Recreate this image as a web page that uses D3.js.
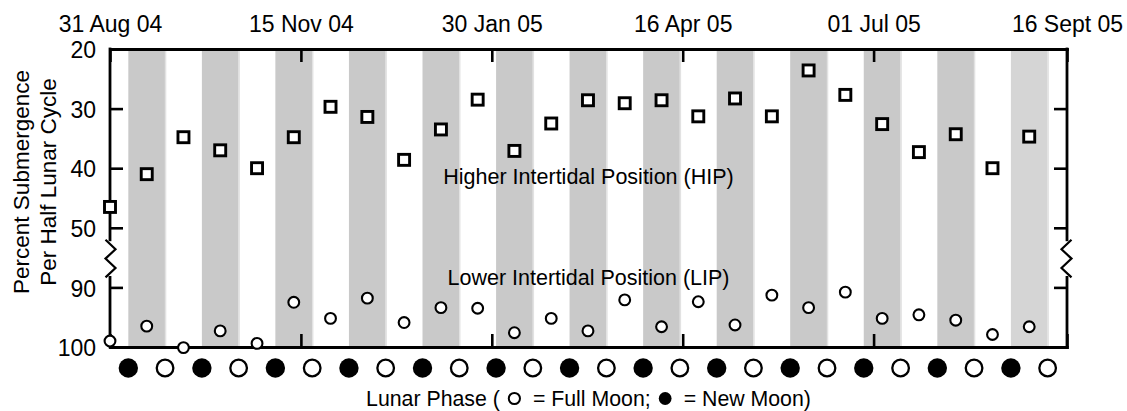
<!DOCTYPE html>
<html>
<head>
<meta charset="utf-8">
<script src="https://cdn.jsdelivr.net/npm/d3@7"></script>
<style>
  body { margin: 0; background: #fff; }
  text { font-family: "Liberation Sans", Arial, Helvetica, sans-serif; fill: #000; }
</style>
</head>
<body>
<svg id="chart" width="1127" height="411"></svg>
<script>
// moon phases (N = new moon, F = full moon), UTC
const phaseDates = [
  "2004-09-07 07", "2004-09-21 22", "2004-10-06 14", "2004-10-21 05", "2004-11-04 20",
  "2004-11-19 12", "2004-12-04 03", "2004-12-18 18", "2005-01-02 10", "2005-01-17 01",
  "2005-01-31 17", "2005-02-15 08", "2005-03-01 23", "2005-03-16 15", "2005-03-31 06",
  "2005-04-14 21", "2005-04-29 13", "2005-05-14 04", "2005-05-28 19", "2005-06-12 11",
  "2005-06-27 02", "2005-07-11 18", "2005-07-26 09", "2005-08-10 00", "2005-08-24 16",
  "2005-09-08 07"
];
const phaseTypes = ["N","F","N","F","N","F","N","F","N","F","N","F","N",
                    "F","N","F","N","F","N","F","N","F","N","F","N","F"];

// one sample per half lunar cycle
const sampleDates = [
  "2004-08-31 00", "2004-09-14 15", "2004-09-29 06", "2004-10-13 21", "2004-10-28 13",
  "2004-11-12 04", "2004-11-26 19", "2004-12-11 11", "2004-12-26 02", "2005-01-09 18",
  "2005-01-24 09", "2005-02-08 00", "2005-02-22 16", "2005-03-09 07", "2005-03-23 22",
  "2005-04-07 14", "2005-04-22 05", "2005-05-06 20", "2005-05-21 12", "2005-06-05 03",
  "2005-06-19 18", "2005-07-04 10", "2005-07-19 01", "2005-08-02 17", "2005-08-17 08",
  "2005-08-31 23"
];
const hipValues = [46.5, 41.0, 34.8, 37.0, 40.0, 34.8, 29.7, 31.4, 38.6, 33.5, 28.5, 37.1, 32.5,
                   28.6, 29.1, 28.6, 31.3, 28.3, 31.3, 23.6, 27.7, 32.6, 37.3, 34.3, 40.0, 34.7];
const lipValues = [99.0, 96.5, 100.1, 97.3, 99.4, 92.5, 95.2, 91.8, 95.9, 93.4, 93.5, 97.6, 95.2,
                   97.3, 92.1, 96.6, 92.4, 96.3, 91.3, 93.4, 90.8, 95.2, 94.6, 95.5, 97.9, 96.6];

const dateTicks = ["2004-08-31 00", "2004-11-15 00", "2005-01-30 00", "2005-04-16 00", "2005-07-01 00", "2005-09-16 00"];
const dateTickLabels = ["31 Aug 04", "15 Nov 04", "30 Jan 05", "16 Apr 05", "01 Jul 05", "16 Sept 05"];
const yTicks = [20, 30, 40, 50, 90, 100];

const parse = d3.utcParse("%Y-%m-%d %H");
const W = 1127, H = 411;
const margin = { top: 49, right: 60, bottom: 64, left: 110 };
const plotH = H - margin.top - margin.bottom;
const unit = plotH / 50; // 20-50, a gap worth 10, then 90-100

const svg = d3.select("#chart");

const x = d3.scaleUtc()
    .domain([parse(dateTicks[0]), parse(dateTicks[dateTicks.length - 1])])
    .range([margin.left, W - margin.right]);
const y = d3.scaleLinear()
    .domain([20, 50, 90, 100])
    .range([margin.top, margin.top + 30 * unit, margin.top + 40 * unit, H - margin.bottom]);

// shaded half cycles: new moon -> full moon
const phases = phaseDates.map((d, i) => ({ date: parse(d), type: phaseTypes[i] }));
const bands = [];
for (let i = 0; i < phases.length - 1; i++) {
    if (phases[i].type === "N") bands.push([phases[i].date, phases[i + 1].date]);
}
svg.append("g").selectAll("rect").data(bands).join("rect")
    .attr("x", d => x(d[0]))
    .attr("width", d => x(d[1]) - x(d[0]))
    .attr("y", margin.top)
    .attr("height", plotH)
    .attr("fill", (d, i) => i === bands.length - 1 ? "#d5d5d5" : "#c9c9c9");
svg.append("g").selectAll("line").data(bands).join("line")
    .attr("x1", d => x(d[1]) + 0.5).attr("x2", d => x(d[1]) + 0.5)
    .attr("y1", margin.top).attr("y2", H - margin.bottom)
    .attr("stroke", "#e2e2e2").attr("stroke-width", 1.5);

// axes
const fontSize = 23;
const topAxis = svg.append("g")
    .attr("transform", `translate(0,${margin.top})`)
    .call(d3.axisTop(x)
        .tickValues(dateTicks.map(parse))
        .tickFormat((d, i) => dateTickLabels[i])
        .tickSizeInner(-13).tickSizeOuter(0).tickPadding(17));
const bottomAxis = svg.append("g")
    .attr("transform", `translate(0,${H - margin.bottom})`)
    .call(d3.axisBottom(x)
        .tickValues(dateTicks.map(parse))
        .tickFormat("")
        .tickSizeInner(-13).tickSizeOuter(0));
const leftAxis = svg.append("g")
    .attr("transform", `translate(${margin.left},0)`)
    .call(d3.axisLeft(y).tickValues(yTicks).tickSizeInner(-13).tickSizeOuter(0).tickPadding(14));
const rightAxis = svg.append("g")
    .attr("transform", `translate(${W - margin.right},0)`)
    .call(d3.axisRight(y).tickValues(yTicks).tickFormat("").tickSizeInner(-13).tickSizeOuter(0));

[topAxis, bottomAxis, leftAxis, rightAxis].forEach(g => {
    g.attr("font-size", fontSize).attr("font-family", null);
    g.selectAll("line").attr("stroke", "#000").attr("stroke-width", 2.6);
    g.selectAll(".domain").attr("stroke", "#000").attr("stroke-width", 2.8).attr("stroke-linecap", "square");
    g.selectAll("text").attr("fill", "#000");
});
leftAxis.selectAll("text").attr("dy", "0.38em");
leftAxis.select(".domain").remove();
rightAxis.select(".domain").remove();

// broken vertical axes
const breakTop = y(50) + 12, breakBot = y(90) - 10;
const breakStep = (breakBot - breakTop) / 4;
[[margin.left, -1], [W - margin.right, 1]].forEach(([ax, s]) => {
    const g = svg.append("g").attr("stroke", "#000").attr("fill", "none").attr("stroke-width", 2.8);
    g.append("line").attr("x1", ax).attr("x2", ax).attr("y1", margin.top).attr("y2", breakTop)
        .attr("stroke-linecap", "square");
    g.append("line").attr("x1", ax).attr("x2", ax).attr("y1", breakBot).attr("y2", H - margin.bottom)
        .attr("stroke-linecap", "square");
    const pts = d3.range(5).map(k => [ax + s * (k % 2 === 0 ? 4.5 : -5.5), breakTop + k * breakStep]);
    g.append("path").attr("d", d3.line()(pts)).attr("stroke-width", 2.2).attr("stroke-linejoin", "miter");
});

// data
const samples = sampleDates.map((d, i) => ({ date: parse(d), hip: hipValues[i], lip: lipValues[i] }));
const sq = 11;
svg.append("g").selectAll("rect").data(samples).join("rect")
    .attr("x", d => x(d.date) - sq / 2)
    .attr("y", d => y(d.hip) - sq / 2)
    .attr("width", sq).attr("height", sq)
    .attr("fill", "#fff").attr("stroke", "#000").attr("stroke-width", 2.9);
svg.append("g").selectAll("circle").data(samples).join("circle")
    .attr("cx", d => x(d.date))
    .attr("cy", d => y(d.lip))
    .attr("r", 5.4)
    .attr("fill", "#fff").attr("stroke", "#000").attr("stroke-width", 2.1);

// lunar phase row
const moonY = H - margin.bottom + 21;
svg.append("g").selectAll("circle").data(phases).join("circle")
    .attr("cx", d => x(d.date))
    .attr("cy", moonY)
    .attr("r", d => d.type === "N" ? 9.7 : 8.3)
    .attr("fill", d => d.type === "N" ? "#000" : "#fff")
    .attr("stroke", "#000")
    .attr("stroke-width", d => d.type === "N" ? 0 : 2.3);

// labels inside plot
const midX = (margin.left + W - margin.right) / 2;
svg.append("text").attr("x", midX).attr("y", 184).attr("text-anchor", "middle")
    .attr("font-size", 21.5).text("Higher Intertidal Position (HIP)");
svg.append("text").attr("x", midX).attr("y", 285).attr("text-anchor", "middle")
    .attr("font-size", 21.5).text("Lower Intertidal Position (LIP)");

// y title
const yTitle = ["Percent Submergence", "Per Half Lunar Cycle"];
yTitle.forEach((t, i) => {
    svg.append("text")
        .attr("transform", `translate(${29 + i * 27},182) rotate(-90)`)
        .attr("text-anchor", "middle")
        .attr("font-size", 22.5)
        .text(t);
});

// legend line: text, open moon, text, filled moon, text
const legendY = 406;
const leg = svg.append("g").attr("font-size", 21.3);
const parts = ["Lunar Phase (", "= Full Moon;", "= New Moon)"];
const widths = parts.map(p => {
    const t = leg.append("text").text(p);
    const w = t.node().getComputedTextLength();
    t.remove();
    return w;
});
const gapBefore = 8, gapAfter = 12, symD = 13;
const total = widths[0] + widths[1] + widths[2] + 2 * (gapBefore + symD + gapAfter);
let cx = midX - total / 2;
leg.append("text").attr("x", cx).attr("y", legendY).text(parts[0]);
cx += widths[0] + gapBefore;
leg.append("circle").attr("cx", cx + symD / 2).attr("cy", legendY - 7.5).attr("r", 5.6)
    .attr("fill", "#fff").attr("stroke", "#000").attr("stroke-width", 2);
cx += symD + gapAfter;
leg.append("text").attr("x", cx).attr("y", legendY).text(parts[1]);
cx += widths[1] + gapBefore;
leg.append("circle").attr("cx", cx + symD / 2).attr("cy", legendY - 7.5).attr("r", 6.4).attr("fill", "#000");
cx += symD + gapAfter;
leg.append("text").attr("x", cx).attr("y", legendY).text(parts[2]);
</script>
</body>
</html>
